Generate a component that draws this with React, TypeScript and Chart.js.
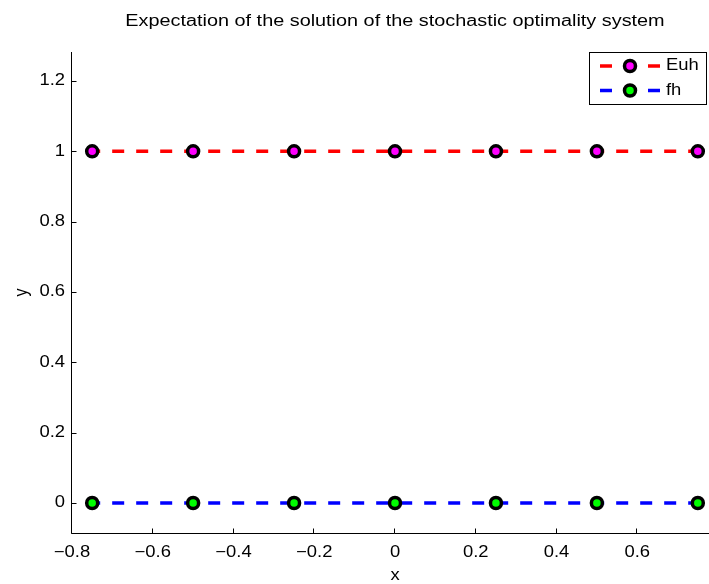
import React, { useEffect, useRef } from "react";
import { Chart, registerables } from "chart.js";

Chart.register(...registerables);

const titleText = "Expectation of the solution of the stochastic optimality system";
const xAxisLabel = "x";
const yAxisLabel = "y";
const seriesNames = ["Euh", "fh"];
const xValues = [-0.75, -0.5, -0.25, 0, 0.25, 0.5, 0.75];
const euhValues = [1, 1, 1, 1, 1, 1, 1];
const fhValues = [0, 0, 0, 0, 0, 0, 0];
const xTicks = [-0.8, -0.6, -0.4, -0.2, 0, 0.2, 0.4, 0.6];
const xTickLabels = ["\u22120.8", "\u22120.6", "\u22120.4", "\u22120.2", "0", "0.2", "0.4", "0.6"];
const yTicks = [0, 0.2, 0.4, 0.6, 0.8, 1, 1.2];
const yTickLabels = ["0", "0.2", "0.4", "0.6", "0.8", "1", "1.2"];

const CW = 720;
const CH = 584;
const FONT = '16px "Liberation Sans", Arial, Helvetica, sans-serif';
const SX_TITLE = 1.24;
const SX_TICK = 1.15;

const lineColors = ["#ff0000", "#0000ff"];
const fillColors = ["#ff00ff", "#00ff00"];

function drawText(ctx: CanvasRenderingContext2D, text: string, x: number, y: number, align: CanvasTextAlign, baseline: CanvasTextBaseline, sx: number) {
  ctx.save();
  ctx.translate(x, y);
  ctx.scale(sx, 1);
  ctx.font = FONT;
  ctx.fillStyle = "#000";
  ctx.textAlign = align;
  ctx.textBaseline = baseline;
  ctx.fillText(text, 0, 0);
  ctx.restore();
}

function drawMarker(ctx: CanvasRenderingContext2D, x: number, y: number, fill: string) {
  ctx.save();
  ctx.beginPath();
  ctx.arc(x, y, 5.5, 0, Math.PI * 2);
  ctx.fillStyle = fill;
  ctx.fill();
  ctx.lineWidth = 3.5;
  ctx.strokeStyle = "#000";
  ctx.stroke();
  ctx.restore();
}

const matlabAxes = {
  id: "matlabAxes",
  beforeDatasetsDraw(chart: any) {
    const ctx: CanvasRenderingContext2D = chart.ctx;
    const { left, right, top, bottom } = chart.chartArea;
    const xs = chart.scales.x;
    const ys = chart.scales.y;
    const L = Math.round(left) - 0.5;
    const B = Math.round(bottom) + 0.5;
    ctx.save();
    ctx.strokeStyle = "#000";
    ctx.lineWidth = 1;
    ctx.beginPath();
    ctx.moveTo(L, Math.round(top));
    ctx.lineTo(L, B);
    ctx.lineTo(right, B);
    ctx.stroke();
    ctx.beginPath();
    xTicks.forEach((v) => {
      const px = Math.round(xs.getPixelForValue(v)) - 0.5;
      ctx.moveTo(px, B);
      ctx.lineTo(px, B - 5);
    });
    yTicks.forEach((v) => {
      const py = Math.round(ys.getPixelForValue(v)) + 0.5;
      ctx.moveTo(L, py);
      ctx.lineTo(L + 5, py);
    });
    ctx.stroke();
    ctx.restore();

    xTicks.forEach((v, i) => {
      drawText(ctx, xTickLabels[i], xs.getPixelForValue(v), 552.5, "center", "middle", SX_TICK);
    });
    yTicks.forEach((v, i) => {
      drawText(ctx, yTickLabels[i], 65, ys.getPixelForValue(v), "right", "middle", SX_TICK);
    });
    drawText(ctx, titleText, xs.getPixelForValue(0), 26, "center", "alphabetic", SX_TITLE);
    drawText(ctx, xAxisLabel, xs.getPixelForValue(0), 580, "center", "alphabetic", SX_TICK);

    ctx.save();
    ctx.translate(22, (top + bottom) / 2);
    ctx.rotate(-Math.PI / 2);
    ctx.scale(1, SX_TICK);
    ctx.font = FONT;
    ctx.fillStyle = "#000";
    ctx.textAlign = "center";
    ctx.textBaseline = "middle";
    ctx.fillText(yAxisLabel, 0, 0);
    ctx.restore();
  },
  afterDraw(chart: any) {
    const ctx: CanvasRenderingContext2D = chart.ctx;
    ctx.save();
    ctx.fillStyle = "#fff";
    ctx.fillRect(589.5, 52.5, 117, 52);
    ctx.strokeStyle = "#000";
    ctx.lineWidth = 1;
    ctx.strokeRect(589.5, 52.5, 117, 52);
    ctx.restore();
    seriesNames.forEach((name, i) => {
      const y = 66 + i * 24.5;
      ctx.save();
      ctx.strokeStyle = lineColors[i];
      ctx.lineWidth = 3.5;
      ctx.beginPath();
      ctx.moveTo(600, y);
      ctx.lineTo(612, y);
      ctx.moveTo(648, y);
      ctx.lineTo(660, y);
      ctx.stroke();
      ctx.restore();
      drawMarker(ctx, 630, y, fillColors[i]);
      drawText(ctx, name, 666, y, "left", "middle", SX_TICK);
    });
  },
};

export default function App() {
  const ref = useRef<HTMLCanvasElement>(null);
  useEffect(() => {
    const canvas = ref.current;
    if (!canvas) return;
    const mk = (vals: number[], i: number) => ({
      label: seriesNames[i],
      data: xValues.map((x, k) => ({ x, y: vals[k] })),
      borderColor: lineColors[i],
      borderWidth: 3.5,
      borderDash: [12, 12],
      borderDashOffset: 4,
      fill: false,
      tension: 0,
      pointRadius: 5.5,
      pointHoverRadius: 5.5,
      pointBorderWidth: 3.5,
      pointBorderColor: "#000",
      pointBackgroundColor: fillColors[i],
    });
    const chart = new Chart(canvas, {
      type: "line",
      data: { datasets: [mk(euhValues, 0), mk(fhValues, 1)] as any },
      options: {
        responsive: false,
        animation: false,
        devicePixelRatio: 1,
        layout: { autoPadding: false, padding: { left: 72, top: 52, right: CW - 718, bottom: CH - 533 } },
        plugins: { legend: { display: false }, title: { display: false }, tooltip: { enabled: false } },
        scales: {
          x: { type: "linear", display: false, min: -0.8, max: 0.8 },
          y: { type: "linear", display: false, min: -0.0853, max: 1.2824 },
        },
      },
      plugins: [matlabAxes],
    });
    return () => chart.destroy();
  }, []);
  return (
    <div style={{ position: "absolute", left: 0, top: 0, width: 709, height: 584, overflow: "hidden", background: "#fff" }}>
      <div style={{ position: "relative", width: CW, height: CH }}>
        <canvas ref={ref} width={CW} height={CH} style={{ display: "block", width: CW, height: CH }} />
      </div>
    </div>
  );
}
